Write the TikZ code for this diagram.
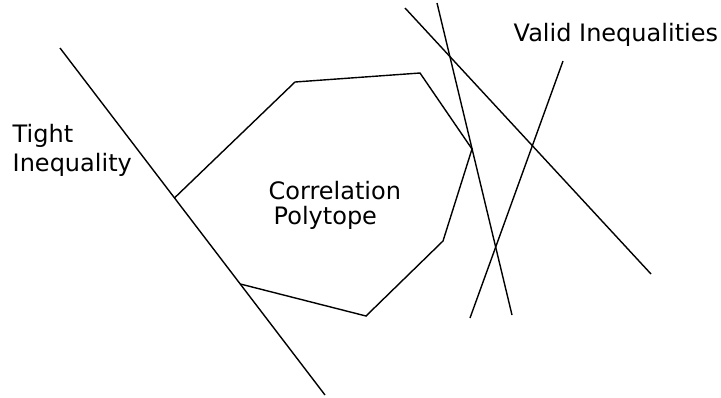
\documentclass[tikz,border=0pt]{standalone}
\usepackage{fontspec}
\setmainfont{DejaVu Sans}
\usepackage{tikz}
\usetikzlibrary{calc}

\begin{document}
\begin{tikzpicture}[x=0.5pt,y=-0.5pt,line width=0.7pt,
		lbl/.style={anchor=base west,inner sep=0pt,font=\fontsize{12}{14}\selectfont}]
		\useasboundingbox (0,0) rectangle (721,397);
		% tight inequality
		\coordinate(T1) at (60,48);
		\coordinate(T2) at (325,395);
		\draw(T1) -- (T2);
		\coordinate(P1) at ($(T1)!0.432!(T2)$);
		\coordinate(P7) at ($(T1)!0.68!(T2)$);
		\coordinate(P2) at (295,82);
		\coordinate(P3) at (420,73);
		\coordinate(P4) at (472,149);
		\coordinate(P5) at (443,241);
		\coordinate(P6) at (366,316);
		
		\draw(P1) -- (P2) -- (P3) -- (P4) -- (P5) -- (P6) -- (P7);
		
		% valid inequalities
		\coordinate(V1) at (405,8);
		\coordinate(V1') at (651,274);
		\coordinate(V2) at (437,3);
		\coordinate(V2') at (512,315);
		\coordinate(V3) at (563,61);
		\coordinate(V3') at (470,318);
		\draw(V1) -- (V1');
		\draw(V2) -- (V2');
		\draw(V3) -- (V3');
		
		\node[lbl](tight) at (12,142) {Tight};
		\node[lbl](ineq) at (12,171) {Inequality};
		\node[lbl](corr) at (268,199) {Correlation};
		\node[lbl](poly) at (273,224) {Polytope};
		\node[lbl](valid) at (513,41) {Valid Inequalities};
	\end{tikzpicture}
\end{document}
